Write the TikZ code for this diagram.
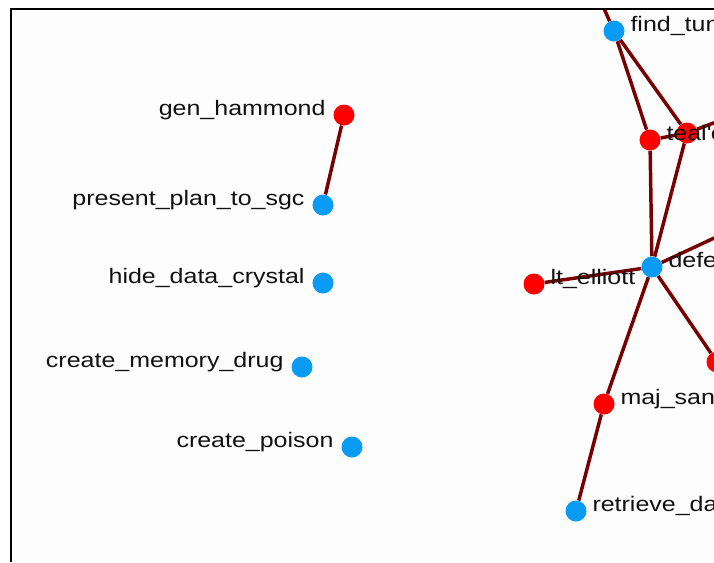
\documentclass[tikz,border=0pt]{standalone}
\usepackage{fontspec}
\setmainfont{Liberation Sans}
\newfontfamily\graphfont{Liberation Sans}[FakeStretch=1.19]
\usepackage{tikz}
\usetikzlibrary{backgrounds}
\definecolor{NodeBlue}{HTML}{0A9CF5}
\definecolor{NodeRed}{HTML}{FF0000}
\definecolor{EdgeMaroon}{HTML}{780000}
\definecolor{LabelGray}{HTML}{111111}
\definecolor{PanelWhite}{HTML}{FDFDFD}

\begin{document}
\begin{tikzpicture}[x=0.75pt, y=-0.75pt,
  task/.style={circle, fill=NodeBlue, minimum size=15.75pt, inner sep=0pt},
  agent/.style={circle, fill=NodeRed, minimum size=15.75pt, inner sep=0pt},
  link/.style={draw=EdgeMaroon, line width=2.6pt},
  lbl/.style={font=\graphfont\fontsize{15.75pt}{18pt}\selectfont, text=LabelGray, inner sep=0pt},
  lblleft/.style={label={[lbl, anchor=base east, label distance=5.6pt]180:#1}},
  lblright/.style={label={[lbl, anchor=base west, label distance=4.1pt]0:#1}}]
\useasboundingbox (0,0) rectangle (714,562);
\begin{scope}
\clip (11,10) rectangle (714,562);
% left column
\node[agent, lblleft={gen\_hammond}] (hammond) at (344,115) {};
\node[task, lblleft={present\_plan\_to\_sgc}] (plansgc) at (323,205) {};
\node[task, lblleft={hide\_data\_crystal}] (hidecrystal) at (323,283) {};
\node[task, lblleft={create\_memory\_drug}] (memorydrug) at (302,367) {};
\node[task, lblleft={create\_poison}] (poison) at (352,447) {};
% right cluster
\node[agent] (agentb) at (687,133) {};
\node[agent] (agentc) at (717,362) {};
\node[task, lblright={find\_tun}] (findtun) at (614,31) {};
\node[agent, lblright={teal\textquotesingle c}] (tealc) at (650,140) {};
\node[task, lblright={defe}] (defe) at (652,267) {};
\node[agent, lblright={lt\_elliott}] (elliott) at (534,284) {};
\node[agent, lblright={maj\_san}] (majsan) at (604,404) {};
\node[task, lblright={retrieve\_da}] (retrieve) at (576,511) {};
\coordinate (offtop) at (598,-5);
\coordinate (offright) at (740,113);
\coordinate (offdefe) at (740,226);
\end{scope}
\begin{scope}[on background layer]
\fill[PanelWhite] (10,9) rectangle (714,562);
\clip (11,10) rectangle (714,562);
\draw[link] (hammond) -- (plansgc);
\draw[link] (findtun) -- (offtop);
\draw[link] (findtun) -- (tealc);
\draw[link] (findtun) -- (agentb);
\draw[link] (tealc) -- (agentb);
\draw[link] (agentb) -- (offright);
\draw[link] (tealc) -- (defe);
\draw[link] (agentb) -- (defe);
\draw[link] (defe) -- (elliott);
\draw[link] (defe) -- (offdefe);
\draw[link] (defe) -- (agentc);
\draw[link] (defe) -- (majsan);
\draw[link] (majsan) -- (retrieve);
\end{scope}
% panel border
\draw[line width=1.5pt] (10.5,562) -- (10.5,8.5) -- (714,8.5);
\end{tikzpicture}
\end{document}
